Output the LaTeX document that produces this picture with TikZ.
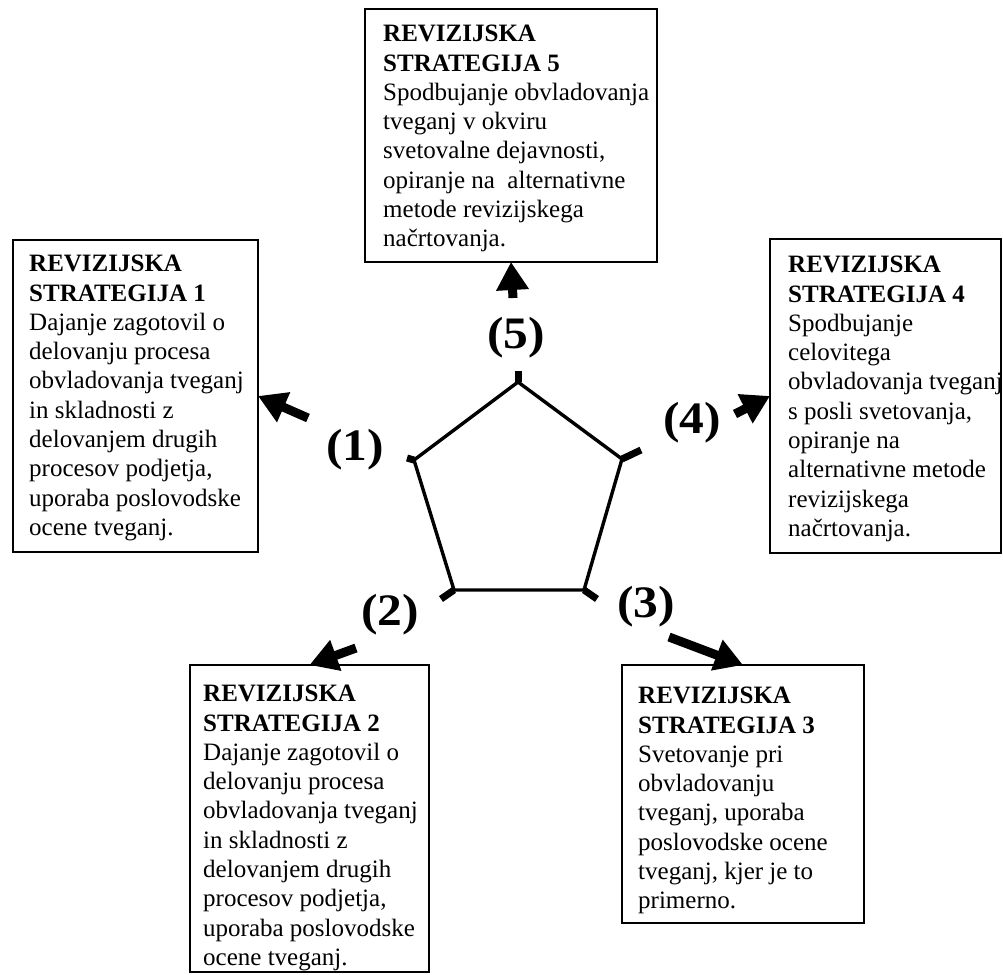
\documentclass[tikz,border=0pt]{standalone}
\usepackage{fontspec}
\setmainfont{Liberation Serif}
\newfontfamily\lblfont[FakeStretch=1.1]{Liberation Serif}
\usetikzlibrary{arrows.meta,calc}
\begin{document}
\begin{tikzpicture}[x=1pt,y=-1pt,
  frame/.style={draw, line width=1.9pt, anchor=north west, inner sep=0pt, outer sep=0pt},
  txt/.style={anchor=north west, inner sep=0pt, align=left, font=\fontsize{25}{29.3}\selectfont},
  lbl/.style={font=\lblfont\bfseries\fontsize{45}{45}\selectfont, inner sep=0pt},
  arr/.style={line width=9pt, -{Triangle[length=28pt,width=31pt]}},
  stub/.style={line width=7pt},
  pent/.style={line width=3.4pt, line join=miter}]
\useasboundingbox (0,0) rectangle (1003,974);

% boxes
\node[frame, minimum width=245pt, minimum height=312pt] (b1) at (13,240) {};
\node[frame, minimum width=231pt, minimum height=314pt] (b4) at (770,239) {};
\node[frame, minimum width=292pt, minimum height=253pt] (b5) at (365,9) {};
\node[frame, minimum width=239pt, minimum height=307pt] (b2) at (190,665) {};
\node[frame, minimum width=242pt, minimum height=258pt] (b3) at (622,665) {};

% texts
\node[txt] (t1) at (29,255) {\textbf{REVIZIJSKA}\\\textbf{STRATEGIJA 1}\\Dajanje zagotovil o\\delovanju procesa\\obvladovanja tveganj\\in skladnosti z\\delovanjem drugih\\procesov podjetja,\\uporaba poslovodske\\ocene tveganj.};
\node[txt] (t4) at (788,256) {\textbf{REVIZIJSKA}\\\textbf{STRATEGIJA 4}\\Spodbujanje\\celovitega\\obvladovanja tveganj\\s posli svetovanja,\\opiranje na\\alternativne metode\\revizijskega\\načrtovanja.};
\node[txt] (t5) at (383,25) {\textbf{REVIZIJSKA}\\\textbf{STRATEGIJA 5}\\Spodbujanje obvladovanja\\tveganj v okviru\\svetovalne dejavnosti,\\opiranje na~ alternativne\\metode revizijskega\\načrtovanja.};
\node[txt] (t2) at (203,685) {\textbf{REVIZIJSKA}\\\textbf{STRATEGIJA 2}\\Dajanje zagotovil o\\delovanju procesa\\obvladovanja tveganj\\in skladnosti z\\delovanjem drugih\\procesov podjetja,\\uporaba poslovodske\\ocene tveganj.};
\node[txt] (t3) at (638,687) {\textbf{REVIZIJSKA}\\\textbf{STRATEGIJA 3}\\Svetovanje pri\\obvladovanju\\tveganj, uporaba\\poslovodske ocene\\tveganj, kjer je to\\primerno.};

% pentagon
\coordinate (pT) at (518,382);
\coordinate (pL) at (414,460);
\coordinate (pR) at (622,459);
\coordinate (pBL) at (454,590);
\coordinate (pBR) at (584,590);
\draw[pent] (pT) -- (pR) -- (pBR) -- (pBL) -- (pL) -- cycle;

% stubs at vertices
\coordinate (sT) at (518,371);
\coordinate (sL) at (407,458);
\coordinate (sR) at (641,450);
\coordinate (sBL) at (441,599);
\coordinate (sBR) at (597,599);
\draw[stub] (pT) -- (sT);
\draw[stub] (pL) -- (sL);
\draw[stub] (pR) -- (sR);
\draw[stub] (pBL) -- (sBL);
\draw[stub] (pBR) -- (sBR);

% arrows
\coordinate (a1) at (308,418);
\coordinate (a4) at (735,414);
\coordinate (a5) at (513,298);
\coordinate (a2) at (356,648);
\coordinate (a3) at (669,637);
\draw[arr] (a1) -- (b1.east);
\draw[arr] (a4) -- (b4.west);
\draw[arr] (a5) -- (b5.south);
\draw[arr] (a2) -- (b2.north);
\draw[arr] (a3) -- (b3.north);

% labels
\node[lbl] (n1) at (355,450) {(1)};
\node[lbl] (n2) at (390,615) {(2)};
\node[lbl] (n3) at (646,607) {(3)};
\node[lbl] (n4) at (692,423) {(4)};
\node[lbl] (n5) at (516,338) {(5)};
\end{tikzpicture}
\end{document}
